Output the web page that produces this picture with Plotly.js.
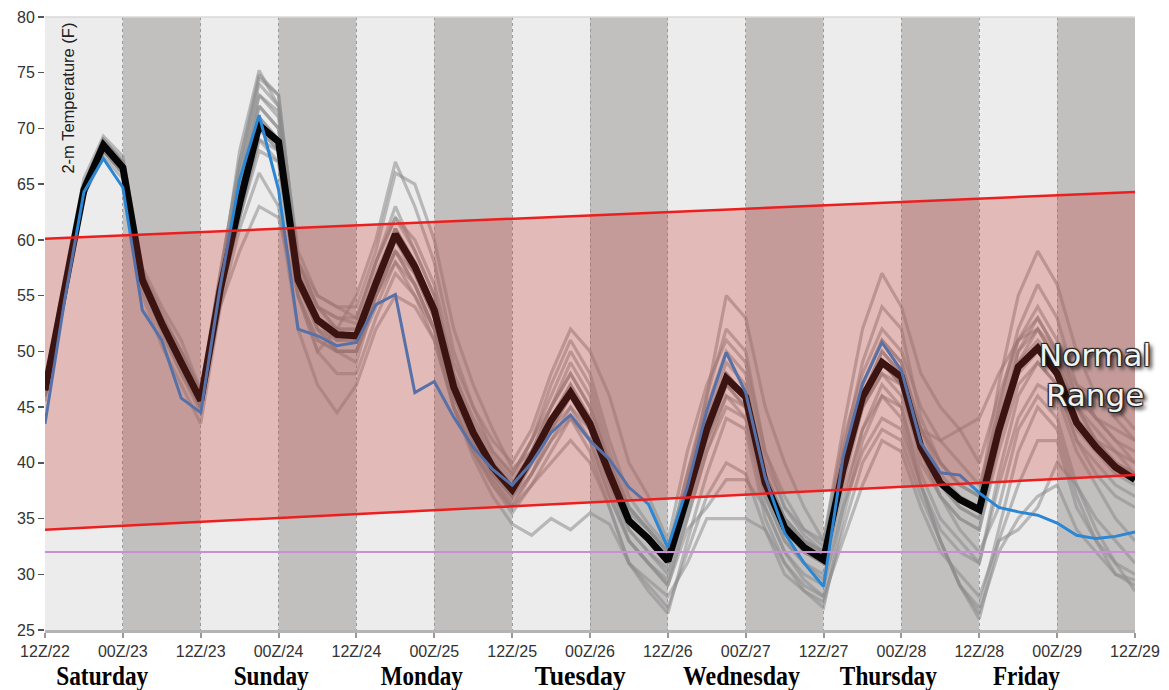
<!DOCTYPE html>
<html>
<head>
<meta charset="utf-8">
<script src="https://cdn.plot.ly/plotly-3.0.1.min.js"></script>
<style>
html,body{margin:0;padding:0;background:#fff;}
#chart{width:1169px;height:690px;}
</style>
</head>
<body>
<div id="chart"></div>
<script>
// ---- DATA ----
const hours = [0,3,6,9,12,15,18,21,24,27,30,33,36,39,42,45,48,51,54,57,60,63,66,69,72,75,78,81,84,87,90,93,96,99,102,105,108,111,114,117,120,123,126,129,132,135,138,141,144,147,150,153,156,159,162,165,168];

const tickHours = [0,12,24,36,48,60,72,84,96,108,120,132,144,156,168];
const tickLabels = ['12Z/22','00Z/23','12Z/23','00Z/24','12Z/24','00Z/25','12Z/25','00Z/26','12Z/26','00Z/27','12Z/27','00Z/28','12Z/28','00Z/29','12Z/29'];

const dayNames = ['Saturday','Sunday','Monday','Tuesday','Wednesday','Thursday','Friday'];
const dayCenters = [8.8,34.8,58.1,82.5,107.4,130.0,151.3];
const dayWidths = [92,75,82,91,117,97,67];

const ensembleMean = [
 46.5,55.5,64.5,68.5,66.5,56.4,52.5,49,45.6,
 55.5,63.3,70.3,68.8,56.4,52.8,51.5,51.4,
 56.1,60.5,57.6,53.7,46.8,42.7,39.6,37.6,
 40.5,43.8,46.3,43.5,39,34.8,33.2,31.2,
 37,43,47.6,45.9,38.2,34.2,32.4,31.3,
 39.4,45.9,49,47.7,41.4,38.2,36.7,35.8,
 42.9,48.6,50.3,48,43.6,41.4,39.6,38.5];

const operational = [
 43.5,54.5,64.3,67.3,64.7,53.7,51,45.8,44.5,
 55.8,65.4,71.2,64.5,52,51.4,50.5,50.8,
 54.2,55.1,46.3,47.3,44.1,41.4,39.4,38,
 40,42.7,44.3,42,40.3,37.8,36.3,32.4,
 37.8,44.7,49.9,46.3,38.7,33.7,31,28.9,
 40.5,47.1,50.8,48.3,41.8,39.1,38.9,37.3,
 36,35.6,35.3,34.6,33.5,33.2,33.4,33.8];

const member01 = [47,56.5,65.5,69.3,67.5,57.5,54,51,46.5, 57,67,74.8,73,58,54,53,52.5, 58,63,59,55,48,43.5,40.5,38.5, 42,46,50,47,41,36,34,32, 39,46,52,50,41,36,33.5,32, 41,49,54,52,44,40,38,37, 45,52,56,53,47,44,42,41];
const member02 = [46,55,64,68,66,56,52,48.5,45, 56,68,75.2,72,57,53,50,49, 55,58,55,51,45,41,38,36, 38,40,42,40,36,31,29,27, 32,37,40,39,34,30,28.5,27.5, 34,40,43,42,37,33,29,26.5, 32,35,37,38,34,32,30,29];
const member03 = [46.5,56,65,68.8,67,57,53,50,46, 55,62,69,68,55,50,52,55, 60,67,63,58,50,45,41,39, 42,47,51,48,42,37,34.5,32.5, 38,44,48,46,39,35,33,31.5, 40,46,50,48,43,39,37,36, 44,50,52,49,45,42,40,39];
const member04 = [46,55,64,67.5,65.5,55,50.5,47,43.5, 54,61,66,63,52,47,44.5,47, 52,55,54,51,45,41,38.5,36.5, 39,42,45,42,37,33,31,29.5, 35,41,45,44,37,33,31,29.5, 37,43,46,45,39,35,33,31, 38,44,47,46,41,38,35,33];
const member05 = [45.5,55,64.5,68,66,56,52,49,45.5, 55,64,71,69,57,52,50,50, 54,58,56,52,45,40.5,37,34.5, 33.5,35,34,35.5,34.5,31,29.5,28, 31,35,35,35,34,31,29,28, 33,38,42,41,36,32,30,28, 33,34,36,40,38,35,33,31];
const member06 = [47,56,65,69,67,57,53.5,50,46.5, 56,65,72,70,57,54,52,52, 57,61,58,54,47,43,40,38, 41,45,48,45,40,35.5,34,32, 38,44,49,47,39,35,33,32, 40,47,51,49,43,40,38,37, 47,55,59,56,50,46,44,42];
const member07 = [46,55.5,64,68,66,56,52,48.5,45, 54,59,63,62,55,50,48,48, 53,57,55,52,46,42,39,37, 40,43,45,43,38.5,34,32,30, 36,42,46,45,37,33,31,30, 38,45,48,47,40,37,35,34, 41,47,49,47,42,40,38,37];
const member08 = [47,56,64.5,68.5,66.5,56.5,53,49.5,46, 55.5,64,72,70,57,53,51,51, 56,61,58,54,47,43,40,37.5, 40,44,47,44,39,35,33,31, 38,46,55,53,45,40,36,33, 43,52,57,54,48,45,43,40, 46,51,53,50,46,44,43,42];
const member09 = [46.5,55.5,64.5,68.5,66,56,52,49,45.5, 55,63,70,68,56,53,52,52, 56,60,57,53,46,42,39,37, 40,43,46,43,38,34,32,30.5, 36,42,47,45,38,34,32,31, 39,45,49,47,41,37,34,32, 36,43,46,44,38,34,31,28.5];
const member10 = [46,55,64.5,68,66,56,52.5,49,45.5, 56,64,71,69,58,54,53,53, 58,62,60,56,49,45,42,40, 43,48,52,50,46,40,37,33, 41,47,51,49,41,37,34,33, 42,48,52,50,45,42,40,38, 44,49,51,49,45,43,41,40];
const member11 = [46,55,64,68,66,56,52,48,44.5, 55,62,69,67,55,51,50,50, 55,59,56,52,45,41,38,35.5, 38,41,44,41,36,31,28.5,26.5, 33,39,44,43,35,31,28.5,27, 35,42,46,44,38,33,29,27, 34,41,45,43,37,33,30,29.5];
const member12 = [47,56,65,68.5,66.5,56,52,49,46, 55,63,70,68,56,52,50,50, 56,61,58,54,47,43,40,38, 41,44,47,44,39,35,33,31.5, 37,43,48,46,39,35,33,32, 40,46,49,47,43,42,43,44, 48,51,52,50,47,46,45,43];
const member13 = [46.5,56,64.5,69,67,57,53,50,46.5, 56,66,73,71,58,55,54,54, 59,66,65,60,52,47,43,39.5, 41,45,49,46,40,36,34,32, 37,43,48,46,38,34,32,31, 39,46,50,48,42,38,36,35, 42,48,50,48,43,41,39,38];
const member14 = [46,55,64,68,66,56,52,49,45, 55,63,70.5,69,56,52,51,51, 55,59,57,53,46,42,39,37, 39,42,44,42,37,33,31,29, 34,36,38.5,38.5,36,32,30,29, 36,41,44,43,38,34,32,31, 39,46,49,47,42,39,37,36];
const member15 = [47,56,65,69,67,57,53,50,46, 57,67,74,72,59,55,54,53, 58,62,59,55,48,44,41,39, 42,45,48,45,40,36,34,32, 39,45,50,48,40,36,34,32.5, 41,47,51,49,43,40,38,37, 45,51,54,51,46,44,42,40];
const member16 = [46,55.5,64,68,66,55.5,51.5,48,45, 55,62,68,67,55,51,50,50, 55,59,56,52,45,41.5,38.5,36, 39,43,46,43,38,33,31,29, 35,41,46,44,36,32,29.5,28, 36,43,47,45,38,33,29,26, 33,38,42,42,36,33,31,30];
const member17 = [46.5,56,65,69,67,57,53,49.5,46, 56,66,74.5,73,58,54,52,51, 56,60,57,53,46,42,39,37, 40,44,46,44,39,35,33,31, 37,43,47,45,38,34,32,31, 39,45,48,46,41,37,35,34, 42,50,53,50,45,42,40,39];
const member18 = [46,55.5,64.5,68.5,66.5,56,52,48.5,45, 55,65,73,71.5,57,53,51,51.5, 55,60,58,54,47,43,40,38, 41,44,46,43,39,35,33,31, 37,43,47,46,39,35,33,32, 39,45,49,47,41,38,36,35, 43,49,52,49,44,42,41,39];

const members = [member01,member02,member03,member04,member05,member06,member07,member08,member09,member10,member11,member12,member13,member14,member15,member16,member17,member18];

const normalX = [0,168];
const normalLow = [34.0,38.9];
const normalHigh = [60.1,64.3];
const freezingX = [0,168];
const freezingY = [32,32];

// ---- TRACES ----
const traces = [];
members.forEach(function(m){
  traces.push({x:hours,y:m,type:'scatter',mode:'lines',
    line:{color:'rgba(140,140,140,0.55)',width:3.2},hoverinfo:'skip',showlegend:false});
});
traces.push({x:hours,y:ensembleMean,type:'scatter',mode:'lines',
  line:{color:'#050505',width:7},hoverinfo:'skip',showlegend:false});
traces.push({x:hours,y:operational,type:'scatter',mode:'lines',
  line:{color:'#2b86d4',width:3},hoverinfo:'skip',showlegend:false});
traces.push({x:freezingX,y:freezingY,type:'scatter',mode:'lines',
  line:{color:'#c98fd6',width:2},hoverinfo:'skip',showlegend:false});
// normal range band
traces.push({x:normalX,y:normalLow,type:'scatter',mode:'lines',
  line:{color:'rgba(0,0,0,0)',width:0},hoverinfo:'skip',showlegend:false});
traces.push({x:normalX,y:normalHigh,type:'scatter',mode:'lines',fill:'tonexty',
  fillcolor:'rgba(200,60,55,0.28)',
  line:{color:'rgba(0,0,0,0)',width:0},hoverinfo:'skip',showlegend:false});
traces.push({x:normalX,y:normalLow,type:'scatter',mode:'lines',
  line:{color:'#ec1f1f',width:2.5},hoverinfo:'skip',showlegend:false});
traces.push({x:normalX,y:normalHigh,type:'scatter',mode:'lines',
  line:{color:'#ec1f1f',width:2.5},hoverinfo:'skip',showlegend:false});

// ---- SHAPES (day/night bands) ----
const shapes = [];
for (let i=0;i<tickHours.length-1;i++){
  shapes.push({type:'rect',xref:'x',yref:'paper',x0:tickHours[i],x1:tickHours[i+1],y0:0,y1:1,
    fillcolor:(i%2===0)?'#ececec':'#c2bfbf',line:{width:0},layer:'below'});
}
shapes.push({type:'line',xref:'paper',yref:'paper',x0:0,x1:1,y0:1,y1:1,line:{color:'#d8d8d8',width:1.5},layer:'above'});

// ---- ANNOTATIONS ----
const annotations = [];
dayNames.forEach(function(d,i){
  annotations.push({x:dayCenters[i],xref:'x',y:-0.0735,yref:'paper',yanchor:'middle',xanchor:'center',
    text:'<b>'+d+'</b>',showarrow:false,
    font:{family:'Liberation Serif, DejaVu Serif, serif',size:28,color:'#000'}});
});
annotations.push({x:0.011,xref:'paper',y:0.995,yref:'paper',xanchor:'left',yanchor:'top',
  text:'2-m Temperature (F)',textangle:-90,showarrow:false,
  font:{family:'Liberation Sans, Arial, sans-serif',size:16.5,color:'#222'}});
annotations.push({x:0.963,xref:'paper',y:47.9,yref:'y',xanchor:'center',yanchor:'middle',
  text:'Normal<br>Range',showarrow:false,align:'center',
  font:{family:'DejaVu Sans, sans-serif',size:31,color:'#f2f2f2',
    shadow:'-1px -1px 1px #222, 1px -1px 1px #222, -1px 1px 1px #222, 1px 1px 1px #222, 3px 3px 4px #000'}});

const layout = {
  width:1169,height:690,
  margin:{l:45,r:34,t:17,b:60},
  paper_bgcolor:'#ffffff',plot_bgcolor:'#ececec',
  showlegend:false,
  xaxis:{range:[0,168],tickmode:'array',tickvals:tickHours,ticktext:tickLabels,
    showgrid:true,gridcolor:'#9a9a9a',griddash:'dot',gridwidth:1,
    zeroline:false,showline:true,linecolor:'#b4b4b4',linewidth:3,
    ticks:'outside',ticklen:5,tickcolor:'#999',tickwidth:2,
    tickfont:{family:'Liberation Sans, Arial, sans-serif',size:16,color:'#333'},fixedrange:true},
  yaxis:{range:[25,80],tickmode:'array',tickvals:[25,30,35,40,45,50,55,60,65,70,75,80],
    showgrid:false,zeroline:false,showline:false,
    ticks:'outside',ticklen:6,tickcolor:'#555',tickwidth:1.5,
    tickfont:{family:'Liberation Sans, Arial, sans-serif',size:16,color:'#333'},fixedrange:true},
  shapes:shapes,
  annotations:annotations
};

Plotly.newPlot('chart',traces,layout,{displayModeBar:false,staticPlot:true}).then(function(gd){
  // condense the day labels to the widths seen in the original
  const texts = gd.querySelectorAll('.annotation-text');
  texts.forEach(function(t){
    const idx = dayNames.indexOf(t.textContent);
    if (idx >= 0){
      t.setAttribute('textLength', dayWidths[idx]);
      t.setAttribute('lengthAdjust', 'spacingAndGlyphs');
    }
  });
});
</script>
</body>
</html>
